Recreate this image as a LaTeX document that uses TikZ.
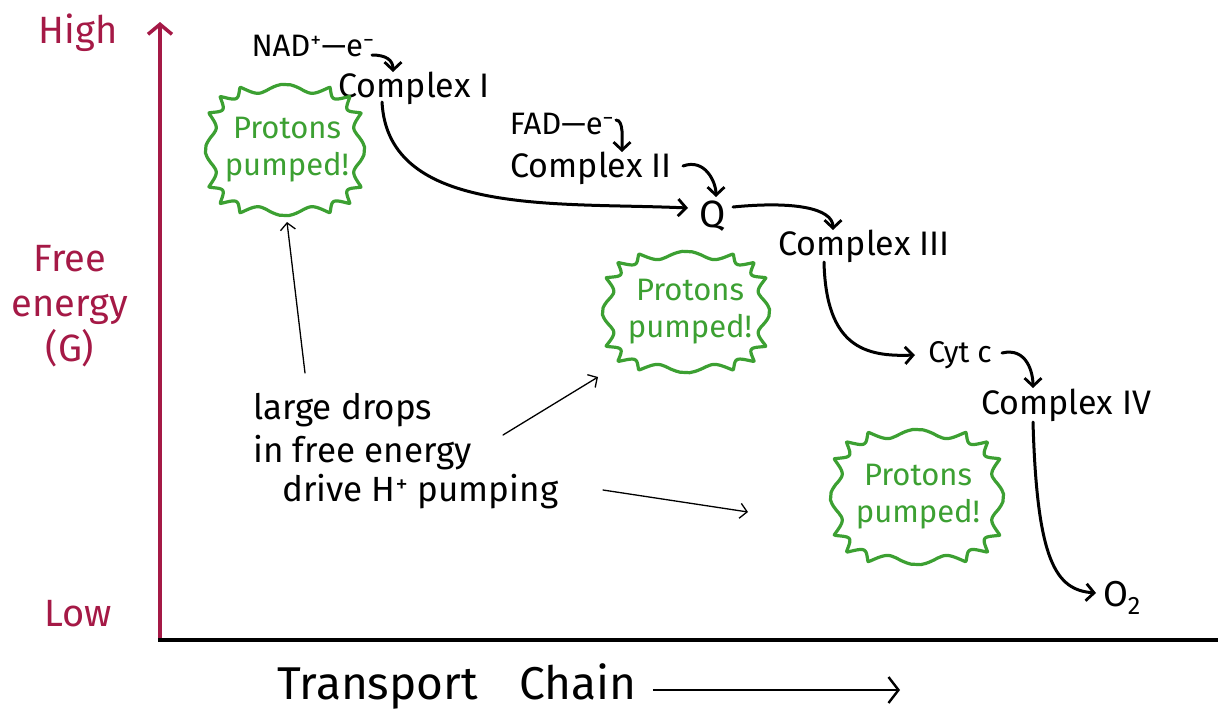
\documentclass[tikz,border=0pt]{standalone}
\usepackage{fontspec}
\setmainfont{Fira Sans}
\usetikzlibrary{arrows.meta,calc}
\definecolor{axisred}{RGB}{165,25,70}
\definecolor{burstgreen}{RGB}{60,160,50}
\newcommand{\burstoutline}[4]{%
  \draw[burstline] plot[domain=0.7:360.7,samples=361]
   ({#1+#3*(1-0.13*abs(sin(8*\x)))*sign(cos(\x))*pow(abs(cos(\x)),0.6)},
    {#2+#4*(1-0.13*abs(sin(8*\x)))*sign(sin(\x))*pow(abs(sin(\x)),0.6)}) -- cycle;}
\tikzset{
  lbl/.style={font=\fontsize{34}{38}\selectfont, inner sep=0pt},
  axlbl/.style={font=\fontsize{38}{45}\selectfont, text=axisred, align=center, inner sep=0pt},
  anntext/.style={font=\fontsize{35}{38}\selectfont, inner sep=0pt, anchor=west},
  burstline/.style={draw=burstgreen, line width=3.2pt, line join=round},
  bursttext/.style={font=\fontsize{31}{37}\selectfont, text=burstgreen, align=center, inner sep=0pt},
  flow/.style={draw=black, line width=3pt, line cap=round, -{Straight Barb[length=8pt,width=17pt,line width=2.8pt]}},
  thin/.style={draw=black, line width=1.3pt, line cap=round, -{Straight Barb[length=7pt,width=15pt,line width=1.3pt]}},
}
\begin{document}
\begin{tikzpicture}[x=1pt,y=-1pt]
\useasboundingbox (0,0) rectangle (1218,713);
\fill[white] (0,0) rectangle (1218,713);

% axes
\coordinate (origin) at (160,640);
\coordinate (ytop) at (160,22);
\coordinate (xend) at (1218,640);
\draw[draw=axisred, line width=4pt, -{Straight Barb[length=10pt,width=24pt,line width=3.5pt]}] (origin) -- (ytop);
\draw[line width=4pt] (158,640) -- (xend);

% axis labels
\node[axlbl] (high) at (78,33) {High};
\node[axlbl] (freeG) at (70,306) {Free\\energy\\(G)};
\node[axlbl] (low) at (78,614) {Low};
\node[lbl, font=\fontsize{46}{50}\selectfont] (tchain) at (457,686) {Transport\hspace{0.9em}Chain};
\coordinate (tarrow) at (900,690);
\draw[line width=2.8pt, -{Straight Barb[length=10pt,width=26pt,line width=2.4pt]}] ($(tchain.east)+(16,4)$) -- (tarrow);

% chain labels
\node[lbl, font=\fontsize{31}{34}\selectfont] (nad) at (313,46) {NAD\textsuperscript{+}—e\textsuperscript{−}};
\node[lbl] (cI) at (414,88) {Complex I};
\node[lbl, font=\fontsize{31}{34}\selectfont] (fad) at (562,124) {FAD—e\textsuperscript{−}};
\node[lbl] (cII) at (591,168) {Complex II};
\node[lbl, font=\fontsize{38}{42}\selectfont] (Q) at (713,216) {Q};
\node[lbl] (cIII) at (864,246) {Complex III};
\node[lbl, font=\fontsize{30}{34}\selectfont] (cyt) at (960,355) {Cyt c};
\node[lbl] (cIV) at (1066,405) {Complex IV};
\node[lbl, font=\fontsize{36}{40}\selectfont] (o2) at (1122,598) {O\textsubscript{2}};

% flow connectors
\draw[flow] ($(nad.center)+(59,9)$) .. controls +(14,0) and +(0,-12) .. ($(cI.center)+(-21,-16)$);
\draw[flow] ($(cI.center)+(-32,14)$) .. controls +(6,115) and +(-130,-6) .. ($(Q.center)+(-25,-8)$);
\draw[flow] ($(fad.center)+(54,-4)$) .. controls +(8,0) and +(0,-12) .. ($(cII.center)+(31,-16)$);
\draw[flow] ($(cII.center)+(92,-2)$) .. controls +(22,-8) and +(0,-15) .. ($(Q.center)+(3,-19)$);
\draw[flow] ($(Q.center)+(20,-9)$) .. controls +(60,-6) and +(0,-22) .. ($(cIII.center)+(-31,-16)$);
\draw[flow] ($(cIII.center)+(-40,16)$) .. controls +(2,85) and +(-50,2) .. ($(cyt.center)+(-45,0)$);
\draw[flow] ($(cyt.center)+(42,-2)$) .. controls +(25,-6) and +(0,-15) .. ($(cIV.center)+(-33,-17)$);
\draw[flow] ($(cIV.center)+(-33,17)$) .. controls +(4,140) and +(-40,-3) .. ($(o2.center)+(-26,-5)$);

% bursts
\burstoutline{285}{150}{80}{66}
\node[bursttext] (b1) at (287,150) {Protons\\pumped!};
\burstoutline{686}{312}{84}{61}
\node[bursttext] (b2) at (690,312) {Protons\\pumped!};
\burstoutline{917}{497}{87}{68}
\node[bursttext] (b3) at (918,497) {Protons\\pumped!};

% annotation
\node[anntext] (ann1) at (253,410) {large drops};
\node[anntext] (ann2) at (253,453) {in free energy};
\node[anntext] (ann3) at (282,492) {drive H\textsuperscript{+} pumping};
\coordinate (t1) at (287,222);
\coordinate (t2) at (598,377);
\coordinate (t3) at (748,512);
\draw[thin] ($(ann1.west)+(52,-37)$) -- (t1);
\draw[thin] ($(ann2.west)+(250,-18)$) -- (t2);
\draw[thin] ($(ann3.west)+(321,-2)$) -- (t3);
\end{tikzpicture}
\end{document}
